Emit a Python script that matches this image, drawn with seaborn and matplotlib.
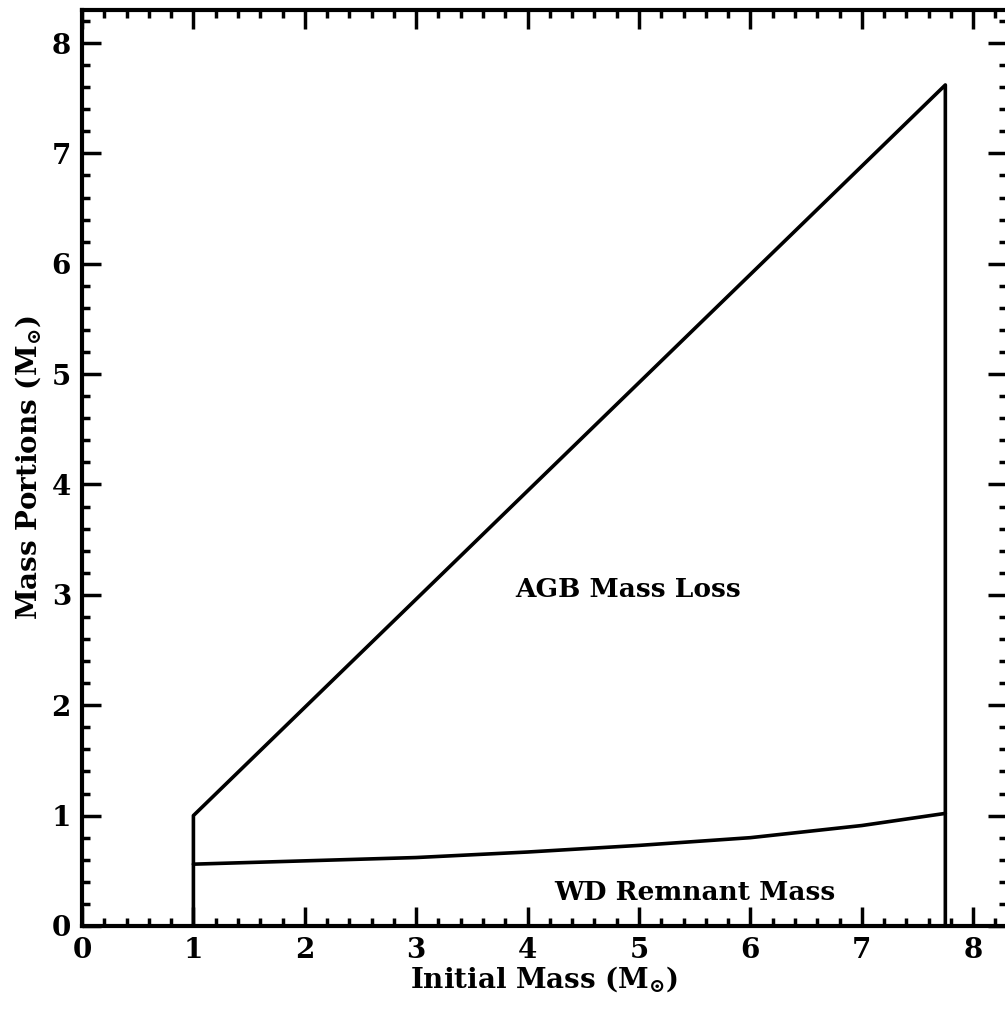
import numpy as np
import pandas as pd
import matplotlib
matplotlib.use('Agg')
import matplotlib.pyplot as plt
from matplotlib.ticker import MultipleLocator
import seaborn as sns

# outer envelope: initial mass line with the two vertical edges
env_x = [1.0, 1.0, 7.75, 7.75]
env_y = [0.0, 1.0, 7.62, 0.0]

# white dwarf remnant mass vs initial mass
wd_x = [1.0, 2.0, 3.0, 4.0, 5.0, 6.0, 7.0, 7.75]
wd_y = [0.56, 0.59, 0.62, 0.67, 0.73, 0.80, 0.91, 1.02]

sns.set_style('ticks')
plt.rcParams['font.family'] = ['DejaVu Serif']
plt.rcParams['font.weight'] = 'bold'
plt.rcParams['mathtext.fontset'] = 'dejavuserif'
plt.rcParams['text.color'] = 'black'
plt.rcParams['axes.labelcolor'] = 'black'
plt.rcParams['xtick.color'] = 'black'
plt.rcParams['ytick.color'] = 'black'

fig = plt.figure(figsize=(10.05, 10.10), dpi=100)
ax = fig.add_axes([0.0816, 0.0832, 0.920, 0.907])

env = pd.DataFrame({'x': env_x, 'y': env_y})
wd = pd.DataFrame({'x': wd_x, 'y': wd_y})
sns.lineplot(data=env, x='x', y='y', sort=False, estimator=None, color='black', linewidth=2.6, ax=ax)
sns.lineplot(data=wd, x='x', y='y', sort=False, estimator=None, color='black', linewidth=2.6, ax=ax)

ax.set_xlim(0, 8.3)
ax.set_ylim(0, 8.3)
ax.xaxis.set_major_locator(MultipleLocator(1))
ax.yaxis.set_major_locator(MultipleLocator(1))
ax.xaxis.set_minor_locator(MultipleLocator(0.2))
ax.yaxis.set_minor_locator(MultipleLocator(0.2))
ax.tick_params(which='both', direction='in', top=True, right=True, width=2.5,
               color='black', labelcolor='black')
ax.tick_params(which='major', length=14, labelsize=20, pad=8)
ax.tick_params(which='minor', length=6)
for lab in ax.get_xticklabels() + ax.get_yticklabels():
    lab.set_fontweight('bold')
for sp in ax.spines.values():
    sp.set_linewidth(3)
    sp.set_color('black')

ax.set_xlabel(r'Initial Mass ($\mathbf{M}_{\odot}$)', fontsize=20, fontweight='bold',
              color='black', labelpad=0)
ax.set_ylabel(r'Mass Portions ($\mathbf{M}_{\odot}$)', fontsize=20, fontweight='bold',
              color='black', labelpad=6)

ax.text(4.9, 3.05, 'AGB Mass Loss', fontsize=19, fontweight='bold', ha='center', va='center', color='black')
ax.text(5.5, 0.3, 'WD Remnant Mass', fontsize=19, fontweight='bold', ha='center', va='center', color='black')

fig.savefig('out.png', dpi=100, facecolor='white')
